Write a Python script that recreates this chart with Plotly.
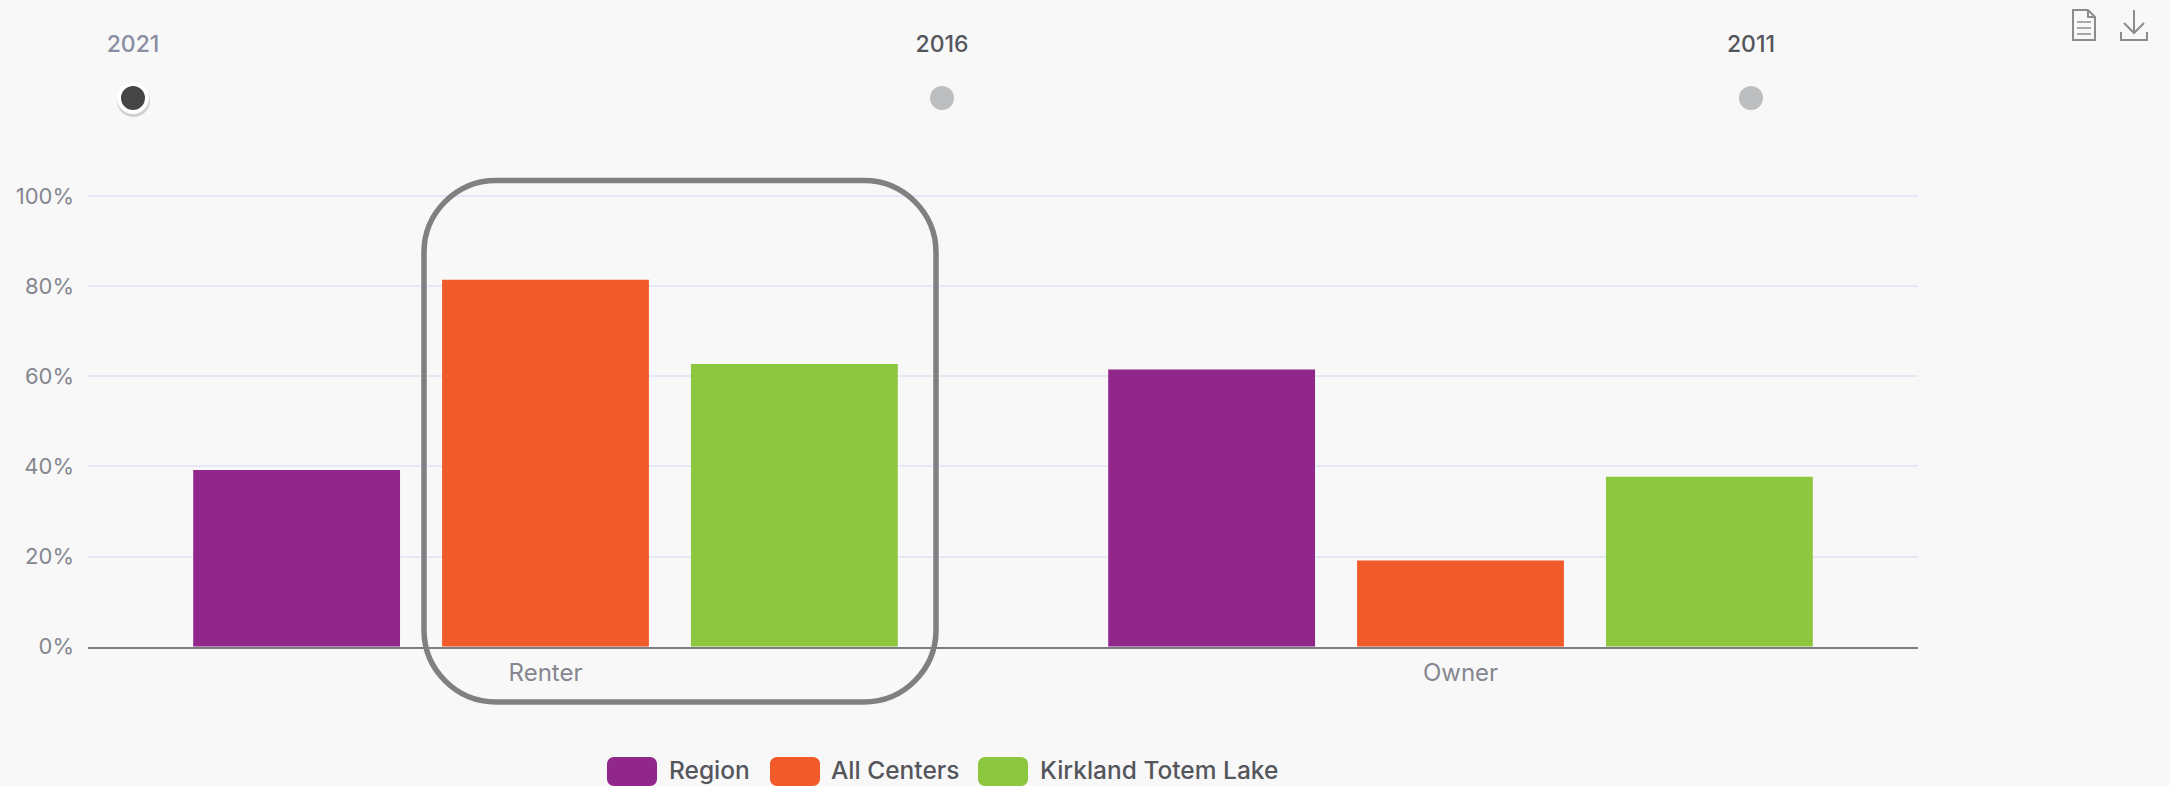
import plotly.graph_objects as go

# Chart data
tenure = ["Renter", "Owner"]
region = [39.2, 61.5]
all_centers = [81.4, 19.1]
kirkland = [62.7, 37.7]
series_names = ["Region", "All Centers", "Kirkland Totem Lake"]
series_colors = ["#91278b", "#f15a29", "#8dc63f"]
years = [2021, 2016, 2011]
selected_year = 2021
y_ticks = [0, 20, 40, 60, 80, 100]

W, H = 2170, 786
FONT = "Inter, 'Noto Sans', sans-serif"
TICK = "#85868f"
INK = "#55565c"


def px(x):
    return x / W


def py(y):
    return 1 - y / H


def rounded_path(x0, y0, x1, y1, r):
    """Rounded rectangle in page pixels, as a path in paper coordinates."""
    k = r * 0.45
    pts = [
        f"M{px(x0 + r)},{py(y0)}",
        f"L{px(x1 - r)},{py(y0)}",
        f"C{px(x1 - k)},{py(y0)} {px(x1)},{py(y0 + k)} {px(x1)},{py(y0 + r)}",
        f"L{px(x1)},{py(y1 - r)}",
        f"C{px(x1)},{py(y1 - k)} {px(x1 - k)},{py(y1)} {px(x1 - r)},{py(y1)}",
        f"L{px(x0 + r)},{py(y1)}",
        f"C{px(x0 + k)},{py(y1)} {px(x0)},{py(y1 - k)} {px(x0)},{py(y1 - r)}",
        f"L{px(x0)},{py(y0 + r)}",
        f"C{px(x0)},{py(y0 + k)} {px(x0 + k)},{py(y0)} {px(x0 + r)},{py(y0)}",
        "Z",
    ]
    return " ".join(pts)


def polyline(points, close=False):
    d = "M" + " L".join(f"{px(x)},{py(y)}" for x, y in points)
    return d + (" Z" if close else "")


fig = go.Figure()

# Grouped bars
for name, values, color in zip(series_names, [region, all_centers, kirkland], series_colors):
    fig.add_trace(go.Bar(
        x=tenure, y=values, name=name, marker=dict(color=color, line=dict(width=0)),
        showlegend=False, hovertemplate="%{x}: %{y}%<extra>" + name + "</extra>",
    ))

# Year selector along the top
fig.add_trace(go.Scatter(
    x=years, y=[0] * len(years), mode="markers", xaxis="x2", yaxis="y2", cliponaxis=False,
    showlegend=False, hoverinfo="skip",
    marker=dict(
        opacity=1,
        size=[28 if yr == selected_year else 24 for yr in years],
        color=["#464646" if yr == selected_year else "#bdbec0" for yr in years],
        line=dict(color=["#ffffff" if yr == selected_year else "#bdbec0" for yr in years],
                  width=[4 if yr == selected_year else 0 for yr in years]),
    ),
))
fig.add_trace(go.Scatter(
    x=years, y=[1] * len(years), mode="text", xaxis="x2", yaxis="y2", cliponaxis=False,
    showlegend=False, hoverinfo="skip", text=[str(yr) for yr in years], textposition="middle center",
    textfont=dict(family=FONT, size=23, weight=500,
                  color=["#8a8ea3" if yr == selected_year else "#55565c" for yr in years]),
))

shapes = [
    # Soft shadow beneath the selected year's dot
    dict(type="circle", xref="paper", yref="paper", layer="below", line=dict(width=0),
         fillcolor="rgba(0,0,0,0.16)", x0=px(117), x1=px(150), y0=py(117), y1=py(84)),
    # Outline around the Renter group
    dict(type="path", xref="paper", yref="paper", layer="above",
         path=rounded_path(424, 180.5, 936, 702, 72),
         line=dict(color="#808080", width=5.5), fillcolor="rgba(0,0,0,0)"),
    # Document icon
    dict(type="path", xref="paper", yref="paper",
         path=polyline([(2073, 10), (2088, 10), (2095, 17), (2095, 40), (2073, 40)], close=True),
         line=dict(color="#8c8c8c", width=2)),
    dict(type="path", xref="paper", yref="paper",
         path=polyline([(2088, 10), (2088, 17), (2095, 17)]), line=dict(color="#8c8c8c", width=2)),
    # Download icon
    dict(type="path", xref="paper", yref="paper",
         path=polyline([(2134, 10), (2134, 33)]), line=dict(color="#8c8c8c", width=2)),
    dict(type="path", xref="paper", yref="paper",
         path=polyline([(2124, 23), (2134, 33), (2144, 23)]), line=dict(color="#8c8c8c", width=2)),
    dict(type="path", xref="paper", yref="paper",
         path=polyline([(2121, 32), (2121, 40), (2147, 40), (2147, 32)]), line=dict(color="#8c8c8c", width=2)),
]
for ly in [22, 28, 34]:
    shapes.append(dict(type="path", xref="paper", yref="paper",
                       path=polyline([(2077, ly), (2091, ly)]), line=dict(color="#a8a8a8", width=2)))

# Legend row: rounded swatches followed by the series names
swatch_lefts = [607, 770, 978]
label_lefts = [668, 830, 1039]
annotations = []
for name, color, sx, lx in zip(series_names, series_colors, swatch_lefts, label_lefts):
    shapes.append(dict(type="path", xref="paper", yref="paper",
                       path=rounded_path(sx, 757, sx + 50, 786, 7),
                       fillcolor=color, line=dict(width=0)))
    annotations.append(dict(xref="paper", yref="paper", x=px(lx), y=py(770), text=name, showarrow=False,
                            xanchor="left", yanchor="middle", xshift=-1,
                            font=dict(family=FONT, size=24.5, weight=500, color=INK)))

# The value axis runs slightly past 100 so the 100% gridline stays drawn
y_top = 101
pixels_per_unit = 4.507

fig.update_layout(
    template="none",
    width=W, height=H, autosize=False,
    margin=dict(l=0, r=0, t=0, b=0, pad=0),
    paper_bgcolor="#f8f8f8", plot_bgcolor="#f8f8f8",
    barmode="group", bargap=0.184, bargroupgap=0.169,
    shapes=shapes, annotations=annotations,
    font=dict(family=FONT),
    xaxis=dict(
        domain=[px(88), px(1918)], type="category", showgrid=False, ticks="", automargin=False,
        showline=True, linecolor="#7c7c85", linewidth=2,
        tickfont=dict(family=FONT, size=24, color=TICK), ticklabelstandoff=3,
    ),
    yaxis=dict(
        domain=[py(646.7), py(646.7 - y_top * pixels_per_unit)], range=[0, y_top],
        tickvals=y_ticks, automargin=False,
        ticktext=[f"{t}%" for t in y_ticks], gridcolor="#e6e9f5", gridwidth=2,
        zeroline=False, showline=False, ticks="",
        tickfont=dict(family=FONT, size=22, color=TICK), ticklabelstandoff=13,
    ),
    xaxis2=dict(domain=[px(133), px(1751)], range=[selected_year, 2011], anchor="y2",
                visible=False, fixedrange=True, automargin=False),
    yaxis2=dict(domain=[py(98), py(46.5)], range=[0, 1], anchor="x2",
                visible=False, fixedrange=True, automargin=False),
)

fig.write_html("out.html", config={"displayModeBar": False})
